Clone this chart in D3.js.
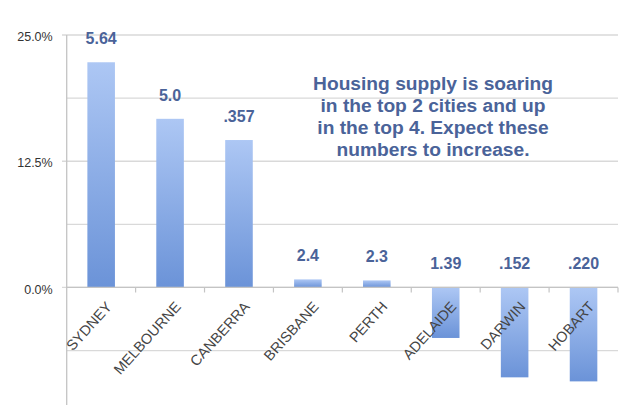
<!DOCTYPE html>
<html><head><meta charset="utf-8">
<script src="https://cdn.jsdelivr.net/npm/d3@7/dist/d3.min.js"></script>
<style>
html,body{margin:0;padding:0;background:#fff;}
svg{display:block;font-family:"Liberation Sans",Arial,sans-serif;}
</style></head>
<body><svg id="c" width="628" height="405"></svg>
<script>
const cities = ["SYDNEY","MELBOURNE","CANBERRA","BRISBANE","PERTH","ADELAIDE","DARWIN","HOBART"];
const values = [22.3, 16.7, 14.6, 0.8, 0.7, -5.0, -8.9, -9.3];
const valueLabels = ["5.64","5.0",".357","2.4","2.3","1.39",".152",".220"];
const yTickValues = [25, 12.5, 0];
const yGridValues = [25, 18.75, 12.5, 6.25, 0, -6.25];
const note = ["Housing supply is soaring","in the top 2 cities and up","in the top 4. Expect these","numbers to increase."];

const svg = d3.select("#c");
const x = d3.scaleBand().domain(cities).range([66.7, 618]).paddingInner(0.6).paddingOuter(0.3);
const xb = d3.scaleBand().domain(cities).range([66.7, 618]);
const y = d3.scaleLinear().domain([-12.5, 25]).range([413.7, 35]);

const defs = svg.append("defs");
const g = defs.append("linearGradient").attr("id","bg").attr("x1",0).attr("y1",0).attr("x2",0).attr("y2",1);
g.append("stop").attr("offset","0%").attr("stop-color","#adc7f4");
g.append("stop").attr("offset","100%").attr("stop-color","#6b93d8");

// gridlines
svg.append("g").selectAll("line").data(yGridValues).join("line")
  .attr("x1", d => yTickValues.includes(d) ? 62 : 66.7).attr("x2", 618)
  .attr("y1", d => y(d)).attr("y2", d => y(d))
  .attr("stroke", "#d9d9d9").attr("stroke-width", 1.3);

// y axis line
svg.append("line").attr("x1",66.7).attr("x2",66.7).attr("y1",y(25)).attr("y2",405)
  .attr("stroke","#c4c4c4").attr("stroke-width",1.3);

// y tick labels
const yAxis = d3.axisLeft(y).tickValues(yTickValues).tickSize(0).tickPadding(14)
  .tickFormat(d => d3.format(".1f")(d) + "%");
const ya = svg.append("g").attr("transform","translate(66.7,0)").call(yAxis);
ya.select(".domain").remove();
ya.selectAll("text").attr("font-size", 12.5).attr("fill","#333").attr("dy","0.45em")
  .attr("font-family","Liberation Sans, Arial, sans-serif");

// bars
svg.append("g").selectAll("rect").data(cities).join("rect")
  .attr("x", d => x(d)).attr("width", x.bandwidth())
  .attr("y", (d,i) => y(Math.max(0, values[i])))
  .attr("height", (d,i) => Math.abs(y(values[i]) - y(0)))
  .attr("fill","url(#bg)");

// x axis (zero line + ticks)
svg.append("line").attr("x1",66.7).attr("x2",618).attr("y1",y(0)).attr("y2",y(0))
  .attr("stroke","#c4c4c4").attr("stroke-width",1.3);
const bounds = cities.map(c => xb(c)).concat([618]);
svg.append("g").selectAll("line").data(bounds.slice(1)).join("line")
  .attr("x1", d => d).attr("x2", d => d).attr("y1", y(0)).attr("y2", y(0) + 5)
  .attr("stroke","#c4c4c4").attr("stroke-width",1.2);

// category labels
svg.append("g").selectAll("text").data(cities).join("text")
  .attr("transform", d => `translate(${x(d) + x.bandwidth()/2 + 4},${y(0) + 13}) rotate(-48)`)
  .attr("text-anchor","end").attr("dy","0.7em")
  .attr("font-size", 14.5).attr("fill","#444")
  .text(d => d);

// value labels
svg.append("g").selectAll("text").data(cities).join("text")
  .attr("x", d => x(d) + x.bandwidth()/2)
  .attr("y", (d,i) => y(Math.max(0, values[i])) - 24)
  .attr("dy","0.36em").attr("text-anchor","middle")
  .attr("font-size", 16).attr("font-weight","bold").attr("fill","#4a6399")
  .text((d,i) => valueLabels[i]);

// annotation
svg.append("text").attr("x", 433).attr("y", 83).attr("text-anchor","middle")
  .attr("font-size", 19.2).attr("font-weight","bold").attr("fill","#4a6399")
  .selectAll("tspan").data(note).join("tspan")
  .attr("x", 433).attr("dy", (d,i) => i === 0 ? "0.36em" : 22)
  .text(d => d);
</script></body></html>
